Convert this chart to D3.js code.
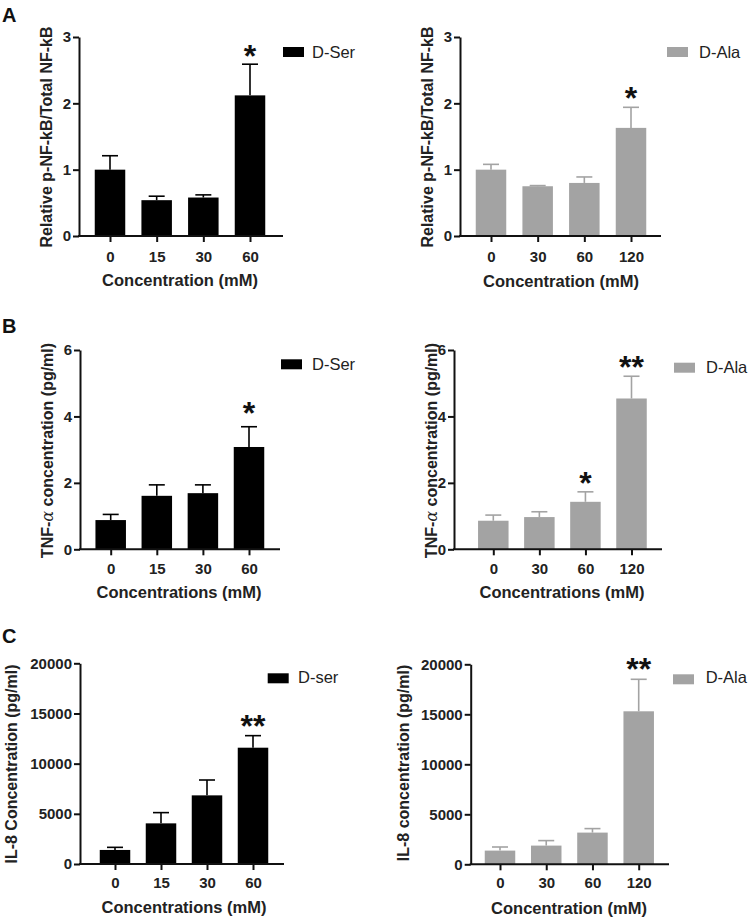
<!DOCTYPE html>
<html>
<head>
<meta charset="utf-8">
<script src="https://cdn.jsdelivr.net/npm/d3@7"></script>
<style>
  html, body { margin: 0; padding: 0; background: #fff; }
  svg { display: block; font-family: "Liberation Sans", Arial, sans-serif; }
</style>
</head>
<body>
<svg id="chart" width="748" height="920"></svg>
<script>
// ---------------- DATA ----------------
const serConc = ["0", "15", "30", "60"];
const alaConc = ["0", "30", "60", "120"];

const nfkbSer = [1.00, 0.54, 0.58, 2.12];
const nfkbSerErr = [0.21, 0.06, 0.04, 0.47];
const nfkbSerSig = ["", "", "", "*"];

const nfkbAla = [1.00, 0.75, 0.80, 1.63];
const nfkbAlaErr = [0.08, 0.01, 0.09, 0.31];
const nfkbAlaSig = ["", "", "", "*"];

const tnfSer = [0.88, 1.61, 1.69, 3.08];
const tnfSerErr = [0.17, 0.33, 0.25, 0.61];
const tnfSerSig = ["", "", "", "*"];

const tnfAla = [0.86, 0.97, 1.43, 4.54];
const tnfAlaErr = [0.17, 0.16, 0.30, 0.67];
const tnfAlaSig = ["", "", "*", "**"];

const il8Ser = [1400, 4050, 6840, 11590];
const il8SerErr = [260, 1070, 1530, 1200];
const il8SerSig = ["", "", "", "**"];

const il8Ala = [1370, 1870, 3170, 15300];
const il8AlaErr = [360, 500, 400, 3200];
const il8AlaSig = ["", "", "", "**"];

const ticksA = [0, 1, 2, 3];
const ticksB = [0, 2, 4, 6];
const ticksC = [0, 5000, 10000, 15000, 20000];

const BLACK = "#000000";
const GRAY = "#a3a3a3";

// -------------- PANELS ----------------
const panels = [
  { letter: "A", letterY: 22, cats: serConc, vals: nfkbSer, errs: nfkbSerErr, sig: nfkbSerSig, ticks: ticksA,
    color: BLACK, legend: "D-Ser", yTitle: "Relative p-NF-kB/Total NF-kB", xTitle: "Concentration (mM)",
    ax: 79, xEnd: 283, c0: 110, c3: 250, yTop: 37, y0: 236,
    yTitleX: 46, yTitleY: 137, xTitleX: 180, xTitleY: 286, xTickY: 262,
    legX: 283, legY: 47, legTextX: 312, legTextY: 57.5, starGap: 11 },
  { cats: alaConc, vals: nfkbAla, errs: nfkbAlaErr, sig: nfkbAlaSig, ticks: ticksA,
    color: GRAY, legend: "D-Ala", yTitle: "Relative p-NF-kB/Total NF-kB", xTitle: "Concentration (mM)",
    ax: 460, xEnd: 661, c0: 491, c3: 631, yTop: 37, y0: 236,
    yTitleX: 427, yTitleY: 137, xTitleX: 561, xTitleY: 286.5, xTickY: 262,
    legX: 667, legY: 47, legTextX: 699, legTextY: 57.5, starGap: 12.5 },
  { letter: "B", letterY: 333, cats: serConc, vals: tnfSer, errs: tnfSerErr, sig: tnfSerSig, ticks: ticksB,
    color: BLACK, legend: "D-Ser", yTitle: "TNF-α concentration (pg/ml)", xTitle: "Concentrations (mM)",
    ax: 80, xEnd: 280, c0: 110.7, c3: 249, yTop: 350, y0: 549.3,
    yTitleX: 47, yTitleY: 450.5, xTitleX: 179, xTitleY: 598, xTickY: 574,
    legX: 281, legY: 359.3, legTextX: 312, legTextY: 370, starGap: 16.5 },
  { cats: alaConc, vals: tnfAla, errs: tnfAlaErr, sig: tnfAlaSig, ticks: ticksB,
    color: GRAY, legend: "D-Ala", yTitle: "TNF-α concentration (pg/ml)", xTitle: "Concentrations (mM)",
    ax: 454, xEnd: 662, c0: 493.3, c3: 631.5, yTop: 350, y0: 549.3,
    yTitleX: 430.7, yTitleY: 450.5, xTitleX: 562, xTitleY: 598, xTickY: 574,
    legX: 674, legY: 362.7, legTextX: 706, legTextY: 373, starGap: 12 },
  { letter: "C", letterY: 643, cats: serConc, vals: il8Ser, errs: il8SerErr, sig: il8SerSig, ticks: ticksC,
    color: BLACK, legend: "D-ser", yTitle: "IL-8 Concentration (pg/ml)", xTitle: "Concentrations (mM)",
    ax: 80, xEnd: 284, c0: 115, c3: 253, yTop: 663.3, y0: 864,
    yTitleX: 11, yTitleY: 764, xTitleX: 184, xTitleY: 913, xTickY: 888,
    legX: 267.7, legY: 673.3, legTextX: 298, legTextY: 683, starGap: 13 },
  { cats: alaConc, vals: il8Ala, errs: il8AlaErr, sig: il8AlaSig, ticks: ticksC,
    color: GRAY, legend: "D-Ala", yTitle: "IL-8 concentration (pg/ml)", xTitle: "Concentration (mM)",
    ax: 470.7, xEnd: 669, c0: 500, c3: 638.7, yTop: 664.3, y0: 864.3,
    yTitleX: 403.3, yTitleY: 763, xTitleX: 569, xTitleY: 914, xTickY: 888,
    legX: 673, legY: 674.3, legTextX: 705.7, legTextY: 683, starGap: 13.5 }
];

const svg = d3.select("#chart");
const BAR_W = 30.5;
const STAR_SIZE = 32;
const STAR_CENTER = 14; // asterisk glyph centre above baseline

panels.forEach(p => {
  const g = svg.append("g");
  const x = d3.scalePoint().domain(p.cats).range([p.c0, p.c3]);
  const y = d3.scaleLinear().domain([0, p.ticks[p.ticks.length - 1]]).range([p.y0, p.yTop]);

  const rows = p.cats.map((c, i) => ({ c, v: p.vals[i], e: p.errs[i], s: p.sig[i] }));

  // bars
  g.selectAll("rect.bar").data(rows).enter().append("rect")
    .attr("class", "bar")
    .attr("x", d => x(d.c) - BAR_W / 2)
    .attr("y", d => y(d.v))
    .attr("width", BAR_W)
    .attr("height", d => y(0) - y(d.v))
    .attr("fill", p.color);

  // error bars (upper)
  const eb = g.selectAll("g.err").data(rows).enter().append("g").attr("class", "err")
    .attr("stroke", p.color).attr("stroke-width", 1.6);
  eb.append("line")
    .attr("x1", d => x(d.c)).attr("x2", d => x(d.c))
    .attr("y1", d => y(d.v)).attr("y2", d => y(d.v + d.e));
  eb.append("line")
    .attr("x1", d => x(d.c) - 8).attr("x2", d => x(d.c) + 8)
    .attr("y1", d => y(d.v + d.e)).attr("y2", d => y(d.v + d.e));

  // significance stars
  g.selectAll("text.sig").data(rows.filter(d => d.s)).enter().append("text")
    .attr("class", "sig")
    .attr("x", d => x(d.c))
    .attr("y", d => y(d.v + d.e) - p.starGap + STAR_CENTER)
    .attr("text-anchor", "middle")
    .attr("font-size", STAR_SIZE).attr("font-weight", "bold")
    .attr("fill", "#111")
    .text(d => d.s);

  // y axis
  const yAxis = d3.axisLeft(y).tickValues(p.ticks).tickSize(6).tickSizeOuter(0).tickPadding(2)
    .tickFormat(d3.format("d"));
  const ya = g.append("g").attr("transform", `translate(${p.ax},0)`).call(yAxis);
  ya.select(".domain").attr("stroke", "#111").attr("stroke-width", 2);
  ya.selectAll(".tick line").attr("stroke", "#111").attr("stroke-width", 2);
  ya.selectAll(".tick text").attr("font-size", 15).attr("font-weight", "bold")
    .attr("font-family", "Liberation Sans, Arial, sans-serif").attr("fill", "#222");

  // x axis
  const xAxis = d3.axisBottom(x).tickSize(6).tickSizeOuter(0).tickPadding(0);
  const xa = g.append("g").attr("transform", `translate(0,${p.y0})`).call(xAxis);
  xa.select(".domain").remove();
  xa.selectAll(".tick line").attr("stroke", "#111").attr("stroke-width", 2);
  xa.selectAll(".tick text")
    .attr("y", p.xTickY - p.y0).attr("dy", null)
    .attr("font-size", 15).attr("font-weight", "bold")
    .attr("font-family", "Liberation Sans, Arial, sans-serif").attr("fill", "#222");
  g.append("line")
    .attr("x1", p.ax - 1).attr("x2", p.xEnd)
    .attr("y1", p.y0).attr("y2", p.y0)
    .attr("stroke", "#111").attr("stroke-width", 2);

  // axis titles
  const yt = g.append("text")
    .attr("transform", `translate(${p.yTitleX},${p.yTitleY}) rotate(-90)`)
    .attr("text-anchor", "middle").attr("dominant-baseline", "central")
    .attr("font-size", 16).attr("font-weight", "bold").attr("fill", "#222");
  if (p.yTitle.indexOf("α") >= 0) {
    const parts = p.yTitle.split("α");
    yt.append("tspan").text(parts[0]);
    yt.append("tspan").attr("font-family", "DejaVu Serif, serif").attr("font-style", "italic")
      .attr("font-weight", "normal").text("α");
    yt.append("tspan").text(parts[1]);
  } else {
    yt.text(p.yTitle);
  }
  g.append("text")
    .attr("x", p.xTitleX).attr("y", p.xTitleY)
    .attr("text-anchor", "middle")
    .attr("font-size", 16.5).attr("font-weight", "bold").attr("fill", "#222")
    .text(p.xTitle);

  // legend
  g.append("rect").attr("x", p.legX).attr("y", p.legY).attr("width", 21).attr("height", 10)
    .attr("fill", p.color);
  g.append("text").attr("x", p.legTextX).attr("y", p.legTextY)
    .attr("font-size", 16.5).attr("fill", "#222").text(p.legend);

  // panel letter
  if (p.letter) {
    g.append("text").attr("x", 2).attr("y", p.letterY)
      .attr("font-size", 20).attr("font-weight", "bold").attr("fill", "#111").text(p.letter);
  }
});
</script>
</body>
</html>
